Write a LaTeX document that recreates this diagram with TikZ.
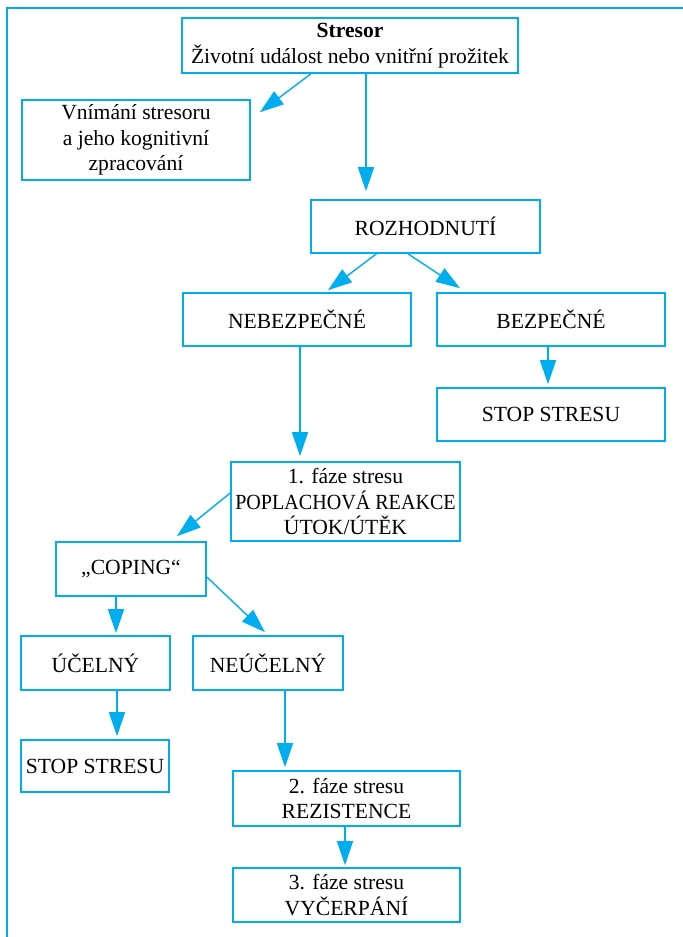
\documentclass[tikz,border=0pt]{standalone}
\usepackage{fontspec}
\setmainfont{Liberation Serif}
\usepackage{tikz}
\usetikzlibrary{arrows.meta}
\definecolor{procyan}{RGB}{0,174,239}

\begin{document}
\begin{tikzpicture}[x=0.5pt, y=-0.5pt,
  box/.style={draw=procyan, line width=0.8pt, inner sep=1pt, align=center,
    font=\fontsize{10.8}{12.8}\selectfont},
  arr/.style={draw=procyan, line width=0.7pt, -{Triangle[length=12pt,width=8pt]}}]
\useasboundingbox (0,0) rectangle (683,937);
\draw [procyan, line width=1pt] (7,937) |- (683,7.5);

\node [box, minimum width=168pt, minimum height=27.5pt] (stresor) at (350,45.5) {\textbf{Stresor}\\Životní událost nebo vnitřní prožitek};
\node [box, minimum width=114pt, minimum height=40pt] (vnimani) at (136,140) {Vnímání stresoru\\a jeho kognitivní\\zpracování};
\node [box, minimum width=114.5pt, minimum height=26.5pt] (rozhod) at (425.5,226.5) {ROZHODNUTÍ};
\node [box, minimum width=114pt, minimum height=26.5pt] (nebezp) at (297,319.5) {NEBEZPEČNÉ};
\node [box, minimum width=114pt, minimum height=26.5pt] (bezp) at (551,319.5) {BEZPEČNÉ};
\node [box, minimum width=114pt, minimum height=26.5pt] (stopA) at (551,414.5) {STOP STRESU};
\node [box, minimum width=114.5pt, minimum height=39.5pt] (faze1) at (345.5,501.5) {1. fáze stresu\\\scalebox{0.93}[1]{POPLACHOVÁ REAKCE}\\ÚTOK/ÚTĚK};
\node [box, minimum width=75pt, minimum height=27pt] (coping) at (131,569) {„COPING“};
\node [box, minimum width=74.5pt, minimum height=27pt] (ucelny) at (95.5,663) {ÚČELNÝ};
\node [box, minimum width=75pt, minimum height=27pt] (neucelny) at (268,663) {NEÚČELNÝ};
\node [box, minimum width=74pt, minimum height=26pt] (stopB) at (95,766) {STOP STRESU};
\node [box, minimum width=113.5pt, minimum height=27.5pt] (faze2) at (346.5,798.5) {2. fáze stresu\\REZISTENCE};
\node [box, minimum width=113.5pt, minimum height=27pt] (faze3) at (346.5,895) {3. fáze stresu\\VYČERPÁNÍ};

\draw [arr] ([shift={(-39,0)}]stresor.south) -- ([shift={(9,13)}]vnimani.north east);
\draw [arr] ([shift={(16,0)}]stresor.south) -- ([shift={(-59.5,-8)}]rozhod.north);
\draw [arr] ([shift={(-49,0)}]rozhod.south) -- ([shift={(31,-2)}]nebezp.north);
\draw [arr] ([shift={(-17.5,0)}]rozhod.south) -- ([shift={(-91,-4)}]bezp.north);
\draw [arr] ([shift={(-3,0)}]bezp.south) -- ([shift={(-3,-3)}]stopA.north);
\draw [arr] ([shift={(3,0)}]nebezp.south) -- ([shift={(-45.5,-5)}]faze1.north);
\draw [arr] ([shift={(0,-8.5)}]faze1.west) -- ([shift={(46,-5)}]coping.north);
\draw [arr] ([shift={(-15,0)}]coping.south) -- ([shift={(20.5,-2)}]ucelny.north);
\draw [arr] ([shift={(0,8)}]coping.east) -- ([shift={(-3,-3)}]neucelny.north);
\draw [arr] ([shift={(21.5,0)}]ucelny.south) -- ([shift={(22,-3)}]stopB.north);
\draw [arr] ([shift={(17,0)}]neucelny.south) -- ([shift={(-61.5,-3)}]faze2.north);
\draw [arr] ([shift={(-1.5,0)}]faze2.south) -- ([shift={(-1.5,-2)}]faze3.north);
\end{tikzpicture}
\end{document}
